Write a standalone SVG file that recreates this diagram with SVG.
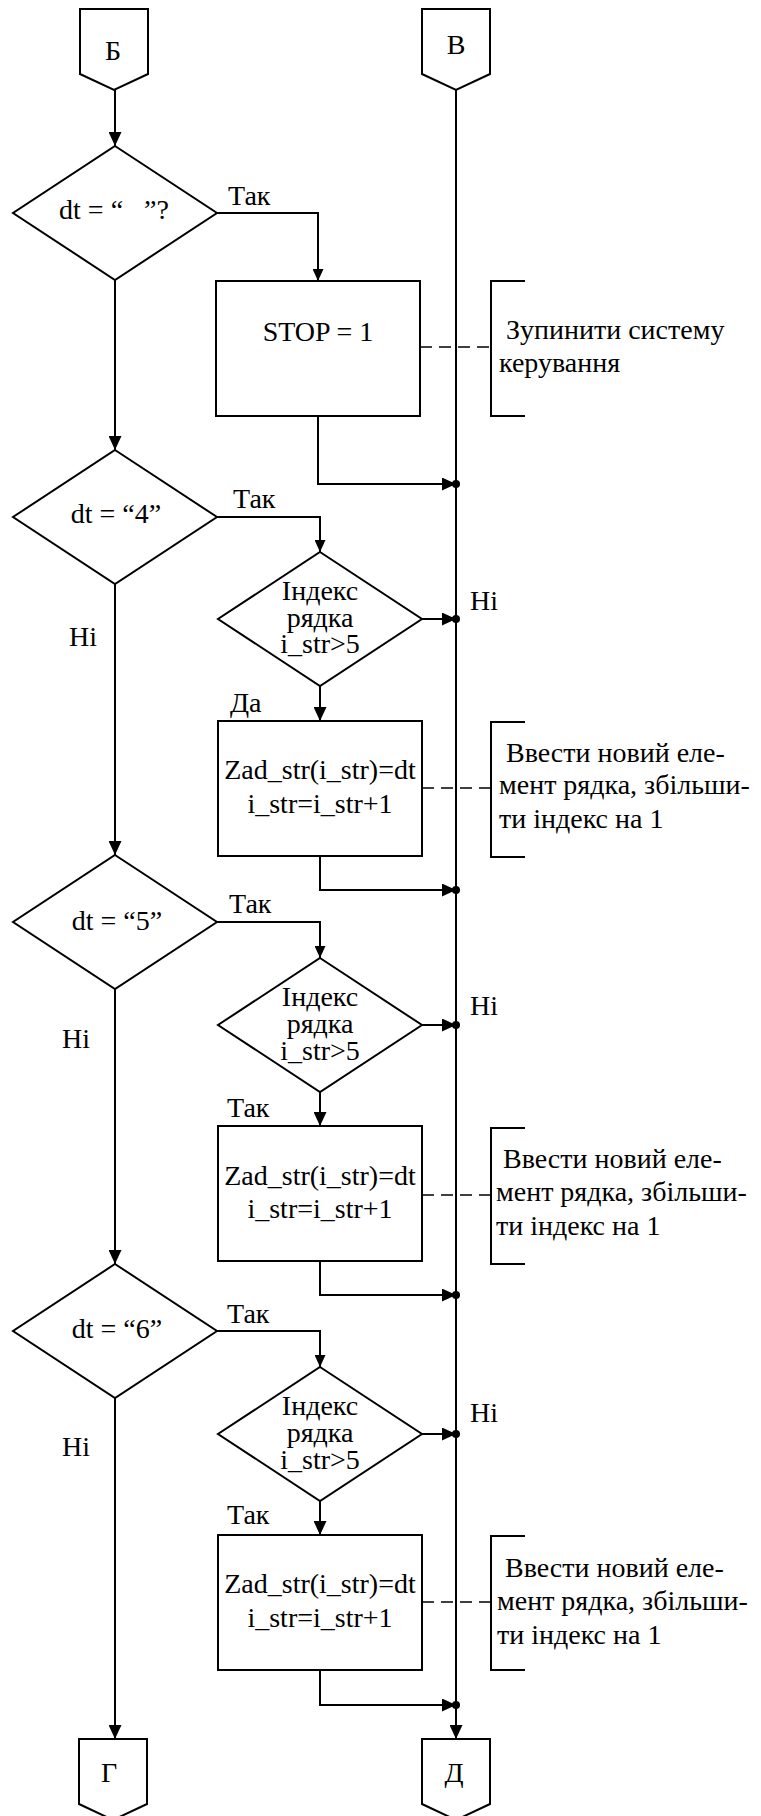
<svg xmlns="http://www.w3.org/2000/svg" width="761" height="1816" viewBox="0 0 761 1816" font-family="'Liberation Serif', 'DejaVu Serif', serif">
  <style>
    .shape { fill: #ffffff; stroke: #000000; stroke-width: 2; }
    .line { fill: none; stroke: #000000; stroke-width: 2; }
    .dash { fill: none; stroke: #000000; stroke-width: 1.6; stroke-dasharray: 12 7; }
    .dot { fill: #000000; }
    text { font-family: 'Liberation Serif', 'DejaVu Serif', serif; font-size: 28px; fill: #000000; }
    .mid { text-anchor: middle; }
    .pre { white-space: pre; }
  </style>
  <defs>
    <marker id="ah" markerWidth="14" markerHeight="13" refX="14" refY="6.5" orient="auto" markerUnits="userSpaceOnUse">
      <path d="M0,0 L14,6.5 L0,13 Z" fill="#000000"/>
    </marker>
    <marker id="ahs" markerWidth="12" markerHeight="11" refX="12" refY="5.5" orient="auto" markerUnits="userSpaceOnUse">
      <path d="M0,0 L12,5.5 L0,11 Z" fill="#000000"/>
    </marker>
  </defs>

  <!-- connectors -->
  <g id="connectors">
    <!-- left column -->
    <path class="line" d="M115,90 V146" marker-end="url(#ah)"/>
    <path class="line" d="M115,280 V450" marker-end="url(#ah)"/>
    <path class="line" d="M115,584 V855" marker-end="url(#ah)"/>
    <path class="line" d="M115,989 V1264" marker-end="url(#ah)"/>
    <path class="line" d="M115,1398 V1739" marker-end="url(#ah)"/>
    <!-- main right line -->
    <path class="line" d="M456,90 V1739" marker-end="url(#ah)"/>
    <!-- yes branches -->
    <path class="line" d="M217,213 H318 V281" marker-end="url(#ahs)"/>
    <path class="line" d="M217,517 H320 V552" marker-end="url(#ahs)"/>
    <path class="line" d="M217,922 H320 V958" marker-end="url(#ahs)"/>
    <path class="line" d="M217,1331 H320 V1367" marker-end="url(#ahs)"/>
    <!-- index checks to boxes -->
    <path class="line" d="M320,686 V721" marker-end="url(#ah)"/>
    <path class="line" d="M320,1092 V1126" marker-end="url(#ah)"/>
    <path class="line" d="M320,1501 V1535" marker-end="url(#ah)"/>
    <!-- "no" exits to the main line -->
    <path class="line" d="M422,619 H456" marker-end="url(#ah)"/>
    <path class="line" d="M422,1025 H456" marker-end="url(#ah)"/>
    <path class="line" d="M422,1434 H456" marker-end="url(#ah)"/>
    <!-- box outputs to the main line -->
    <path class="line" d="M318,416 V484 H456" marker-end="url(#ah)"/>
    <path class="line" d="M320,856 V890 H456" marker-end="url(#ah)"/>
    <path class="line" d="M320,1261 V1295 H456" marker-end="url(#ah)"/>
    <path class="line" d="M320,1670 V1705 H456" marker-end="url(#ah)"/>
    <!-- junction dots -->
    <circle class="dot" cx="456" cy="484" r="4"/>
    <circle class="dot" cx="456" cy="619" r="4"/>
    <circle class="dot" cx="456" cy="890" r="4"/>
    <circle class="dot" cx="456" cy="1025" r="4"/>
    <circle class="dot" cx="456" cy="1295" r="4"/>
    <circle class="dot" cx="456" cy="1434" r="4"/>
    <circle class="dot" cx="456" cy="1705" r="4"/>
    <!-- comment leaders -->
    <path class="dash" d="M420,347 H491"/>
    <path class="dash" d="M422,788 H491"/>
    <path class="dash" d="M422,1195 H491"/>
    <path class="dash" d="M422,1602 H491"/>
    <!-- branch labels -->
    <text x="228" y="205">Так</text>
    <text x="233" y="508">Так</text>
    <text x="229" y="913">Так</text>
    <text x="227" y="1323">Так</text>
    <text x="230" y="712">Да</text>
    <text x="227" y="1117">Так</text>
    <text x="227" y="1524">Так</text>
    <text x="470" y="610">Ні</text>
    <text x="470" y="1015">Ні</text>
    <text x="470" y="1422">Ні</text>
    <text x="69" y="646">Ні</text>
    <text x="62" y="1048">Ні</text>
    <text x="62" y="1456">Ні</text>
  </g>

  <!-- off-page connectors -->
  <g id="conn-b">
    <polygon class="shape" points="80,9 148,9 148,74 114,90 80,74"/>
    <text class="mid" x="113" y="60">Б</text>
  </g>
  <g id="conn-v">
    <polygon class="shape" points="422,9 490,9 490,74 456,90 422,74"/>
    <text class="mid" x="456" y="54">В</text>
  </g>
  <g id="conn-g">
    <polygon class="shape" points="79,1739 147,1739 147,1804 113,1820 79,1804"/>
    <text class="mid" x="109" y="1782">Г</text>
  </g>
  <g id="conn-d">
    <polygon class="shape" points="422,1739 490,1739 490,1804 456,1820 422,1804"/>
    <text class="mid" x="454" y="1782">Д</text>
  </g>

  <!-- decisions on dt -->
  <g id="dec-space">
    <polygon class="shape" points="115,146 217,213 115,280 13,213"/>
    <text class="mid pre" x="114" y="219" xml:space="preserve">dt = “   ”?</text>
  </g>
  <g id="dec-4">
    <polygon class="shape" points="115,450 217,517 115,584 13,517"/>
    <text class="mid" x="116" y="523">dt = “4”</text>
  </g>
  <g id="dec-5">
    <polygon class="shape" points="115,855 217,922 115,989 13,922"/>
    <text class="mid" x="117" y="930">dt = “5”</text>
  </g>
  <g id="dec-6">
    <polygon class="shape" points="115,1264 217,1331 115,1398 13,1331"/>
    <text class="mid" x="117" y="1338">dt = “6”</text>
  </g>

  <!-- stop action -->
  <g id="stop">
    <rect class="shape" x="216" y="281" width="204" height="135"/>
    <text class="mid" x="318" y="341">STOP = 1</text>
  </g>
  <g id="note-stop">
    <path class="line" d="M525,281 H491 V416 H525"/>
    <text x="506" y="339">Зупинити систему</text>
    <text x="499" y="372">керування</text>
  </g>

  <!-- index checks -->
  <g id="idx-4">
    <polygon class="shape" points="320,552 422,619 320,686 218,619"/>
    <text class="mid" x="320" y="600">Індекс</text>
    <text class="mid" x="320" y="627">рядка</text>
    <text class="mid" x="320" y="653">i_str&gt;5</text>
  </g>
  <g id="idx-5">
    <polygon class="shape" points="320,958 422,1025 320,1092 218,1025"/>
    <text class="mid" x="320" y="1006">Індекс</text>
    <text class="mid" x="320" y="1033">рядка</text>
    <text class="mid" x="320" y="1060">i_str&gt;5</text>
  </g>
  <g id="idx-6">
    <polygon class="shape" points="320,1367 422,1434 320,1501 218,1434"/>
    <text class="mid" x="320" y="1415">Індекс</text>
    <text class="mid" x="320" y="1442">рядка</text>
    <text class="mid" x="320" y="1469">i_str&gt;5</text>
  </g>

  <!-- store actions -->
  <g id="store-4">
    <rect class="shape" x="218" y="721" width="204" height="135"/>
    <text class="mid" x="320" y="779">Zad_str(i_str)=dt</text>
    <text class="mid" x="320" y="813">i_str=i_str+1</text>
  </g>
  <g id="note-4">
    <path class="line" d="M525,722 H491 V857 H525"/>
    <text x="506" y="762">Ввести новий еле-</text>
    <text x="499" y="794">мент рядка, збільши-</text>
    <text x="499" y="828">ти індекс на 1</text>
  </g>
  <g id="store-5">
    <rect class="shape" x="218" y="1126" width="204" height="135"/>
    <text class="mid" x="320" y="1185">Zad_str(i_str)=dt</text>
    <text class="mid" x="320" y="1218">i_str=i_str+1</text>
  </g>
  <g id="note-5">
    <path class="line" d="M525,1128 H491 V1264 H525"/>
    <text x="503" y="1168">Ввести новий еле-</text>
    <text x="496" y="1201">мент рядка, збільши-</text>
    <text x="496" y="1235">ти індекс на 1</text>
  </g>
  <g id="store-6">
    <rect class="shape" x="218" y="1535" width="204" height="135"/>
    <text class="mid" x="320" y="1593">Zad_str(i_str)=dt</text>
    <text class="mid" x="320" y="1627">i_str=i_str+1</text>
  </g>
  <g id="note-6">
    <path class="line" d="M525,1536 H491 V1670 H525"/>
    <text x="505" y="1577">Ввести новий еле-</text>
    <text x="497" y="1610">мент рядка, збільши-</text>
    <text x="497" y="1644">ти індекс на 1</text>
  </g>
</svg>
